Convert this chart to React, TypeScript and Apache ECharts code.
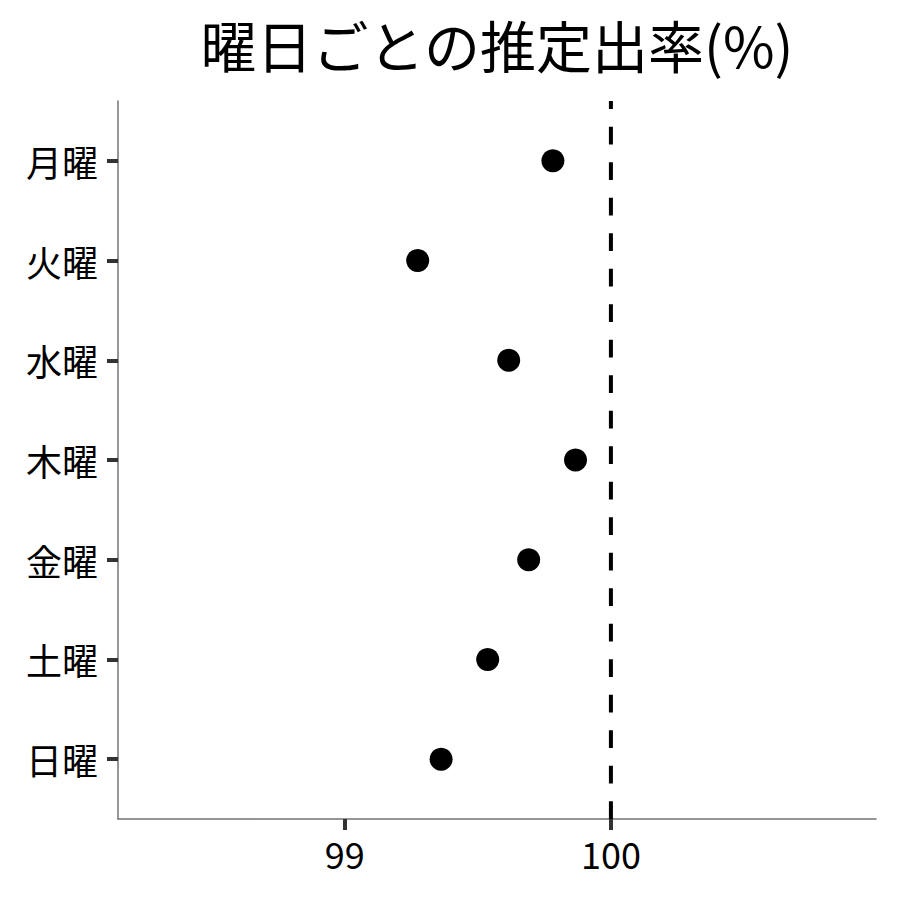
import React, { useEffect, useRef } from "react";
import * as echarts from "echarts";

const titleText = "曜日ごとの推定出率(%)";
const days = ["月曜", "火曜", "水曜", "木曜", "金曜", "土曜", "日曜"];
const estimates = [99.782, 99.274, 99.616, 99.867, 99.691, 99.537, 99.362];
const xTicks = [99, 100];
const refLine = 100;
const xMin = 98.148;
const xMax = 100.996;

const FONT = "'Noto Sans CJK JP', 'Noto Sans', sans-serif";

export default function App() {
  const ref = useRef<HTMLDivElement>(null);
  useEffect(() => {
    if (!ref.current) return;
    const chart = echarts.init(ref.current, null, { renderer: "svg" });
    const positions = days.map((_, i) => i + 1);
    const yMin = 0.4;
    const yMax = days.length + 0.6;
    chart.setOption({
      animation: false,
      backgroundColor: "#ffffff",
      textStyle: { fontFamily: FONT },
      graphic: [
        {
          type: "text",
          x: 497,
          y: 43,
          style: {
            text: titleText,
            fontFamily: FONT,
            fontSize: 56,
            fill: "#000",
            textAlign: "center",
            textVerticalAlign: "middle",
          },
        },
      ],
      grid: { left: 118, right: 24, top: 101, bottom: 81, containLabel: false },
      xAxis: {
        type: "value",
        min: xMin,
        max: xMax,
        axisLine: { show: true, lineStyle: { color: "#737373", width: 1.5 } },
        axisTick: {
          show: true,
          customValues: xTicks,
          length: 11,
          lineStyle: { color: "#333", width: 4 },
        },
        axisLabel: {
          customValues: xTicks,
          fontSize: 36,
          color: "#000",
          fontFamily: FONT,
          margin: 16,
        },
        splitLine: { show: false },
      },
      yAxis: {
        type: "value",
        inverse: true,
        min: yMin,
        max: yMax,
        axisLine: { show: true, lineStyle: { color: "#737373", width: 1.5 } },
        axisTick: {
          show: true,
          customValues: positions,
          length: 11,
          lineStyle: { color: "#333", width: 4 },
        },
        axisLabel: {
          customValues: positions,
          fontSize: 36,
          color: "#000",
          fontFamily: FONT,
          margin: 20,
          formatter: (v: number) => days[Math.round(v) - 1] ?? "",
        },
        splitLine: { show: false },
      },
      series: [
        {
          type: "line",
          data: [
            [refLine, yMax],
            [refLine, yMin],
          ],
          symbol: "none",
          silent: true,
          lineStyle: { color: "#000", width: 4, type: [17.75, 17.75] },
          z: 1,
        },
        {
          type: "scatter",
          data: estimates.map((v, i) => [v, i + 1]),
          symbolSize: 23,
          itemStyle: { color: "#000", opacity: 1 },
          z: 2,
        },
      ],
    });
    return () => chart.dispose();
  }, []);
  return (
    <div
      ref={ref}
      style={{ position: "fixed", left: 0, top: 0, width: 900, height: 900 }}
    />
  );
}
